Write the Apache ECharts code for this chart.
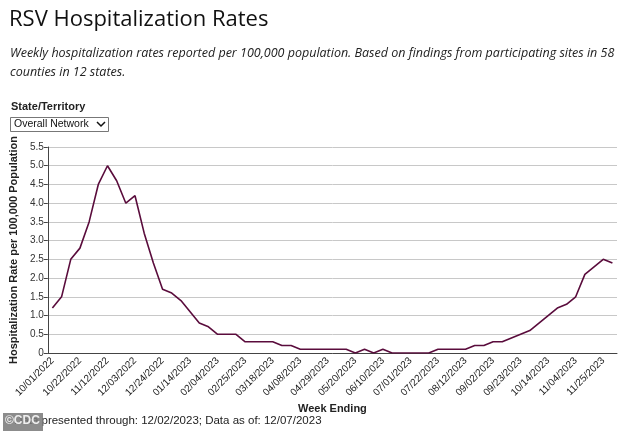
<!DOCTYPE html>
<html>
<head>
<meta charset="utf-8">
<script src="https://cdn.jsdelivr.net/npm/echarts@6/dist/echarts.min.js"></script>
<style>
html,body{margin:0;padding:0;background:#fff;}
#c{width:634px;height:431px;}
</style>
</head>
<body>
<div id="c"></div>
<script>
var weeks = [];
(function(){
  var d = new Date(Date.UTC(2022, 9, 1));
  for (var i = 0; i < 62; i++) {
    var t = new Date(d.getTime() + i * 7 * 86400000);
    var mm = String(t.getUTCMonth() + 1).padStart(2, '0');
    var dd = String(t.getUTCDate()).padStart(2, '0');
    weeks.push(mm + '/' + dd + '/' + t.getUTCFullYear());
  }
})();
var rates = [1.2,1.5,2.5,2.8,3.5,4.5,5.0,4.6,4.0,4.2,3.2,2.4,1.7,1.6,1.4,1.1,0.8,0.7,0.5,0.5,
  0.5,0.3,0.3,0.3,0.3,0.2,0.2,0.1,0.1,0.1,0.1,0.1,0.1,0,0.1,0,0.1,0,0,0,
  0,0,0.1,0.1,0.1,0.1,0.2,0.2,0.3,0.3,0.4,0.5,0.6,0.8,1.0,1.2,1.3,1.5,2.1,2.3,
  2.5,2.4];
var yTicks = [0,0.5,1,1.5,2,2.5,3,3.5,4,4.5,5,5.5];

var chart = echarts.init(document.getElementById('c'), null, {renderer:'canvas'});
chart.setOption({
  animation: false,
  backgroundColor: '#fff',
  grid: {left: 42, right: 17, top: 147, bottom: 78},
  xAxis: {
    type: 'category',
    data: weeks,
    boundaryGap: true,
    name: 'Week Ending',
    nameLocation: 'middle',
    nameGap: 50,
    nameTextStyle: {fontFamily: 'Liberation Sans, Arial', fontSize: 11, fontWeight: 'bold', color: '#222'},
    axisLine: {lineStyle: {color: '#444', width: 1}},
    axisTick: {interval: 2, alignWithLabel: true, length: 5, lineStyle: {color: '#444'}},
    axisLabel: {interval: 2, rotate: 45, fontFamily: 'Liberation Sans, Arial', fontSize: 10, color: '#1a1a1a', margin: 6},
    splitLine: {show: false}
  },
  yAxis: {
    type: 'value',
    min: yTicks[0], max: yTicks[yTicks.length - 1], interval: 0.5,
    name: 'Hospitalization Rate per 100,000 Population',
    nameLocation: 'middle',
    nameGap: 27,
    nameTextStyle: {fontFamily: 'Liberation Sans, Arial', fontSize: 11, fontWeight: 'bold', color: '#222'},
    axisLine: {show: true, lineStyle: {color: '#444', width: 1}},
    axisTick: {show: true, length: 4, lineStyle: {color: '#444'}},
    axisLabel: {fontFamily: 'Liberation Sans, Arial', fontSize: 10, color: '#333', margin: 4,
      formatter: function(v){ return v === 0 ? '0' : v.toFixed(1); }},
    splitLine: {lineStyle: {color: '#c8c8c8', width: 1}}
  },
  series: [{
    type: 'line',
    data: rates,
    symbol: 'none',
    lineStyle: {color: '#5a0c3c', width: 1.6},
    z: 5
  }],
  graphic: [
    {type: 'text', left: 9, top: 9, style: {text: 'RSV Hospitalization Rates', font: '22px "Open Sans", sans-serif', fill: '#111'}},
    {type: 'text', left: 10, top: 44, style: {text: 'Weekly hospitalization rates reported per 100,000 population. Based on findings from participating sites in 58\ncounties in 12 states.', font: 'italic 12.5px "Open Sans", sans-serif', fill: '#222', lineHeight: 19}},
    {type: 'text', left: 11, top: 101, style: {text: 'State/Territory', font: 'bold 11px "Liberation Sans", Arial', fill: '#222'}},
    {type: 'rect', shape: {x: 10.5, y: 117.5, width: 98, height: 14}, style: {fill: '#fff', stroke: '#777', lineWidth: 1}},
    {type: 'text', left: 14, top: 119, style: {text: 'Overall Network', font: '10.5px "Liberation Sans", Arial', fill: '#111'}},
    {type: 'polyline', shape: {points: [[97, 122], [101, 126], [105, 122]]}, style: {stroke: '#111', lineWidth: 1.5, fill: null}},
    {type: 'text', left: 14, top: 415, style: {text: 'Data presented through: 12/02/2023; Data as of: 12/07/2023', font: '11.5px "Liberation Sans", Arial', fill: '#222'}},
    {type: 'rect', shape: {x: 3, y: 413, width: 40, height: 18}, style: {fill: 'rgba(120,120,120,0.85)'}},
    {type: 'text', left: 5, top: 415, style: {text: '©CDC', font: 'bold 12px "Liberation Sans", Arial', fill: '#eee'}}
  ]
});
</script>
</body>
</html>
